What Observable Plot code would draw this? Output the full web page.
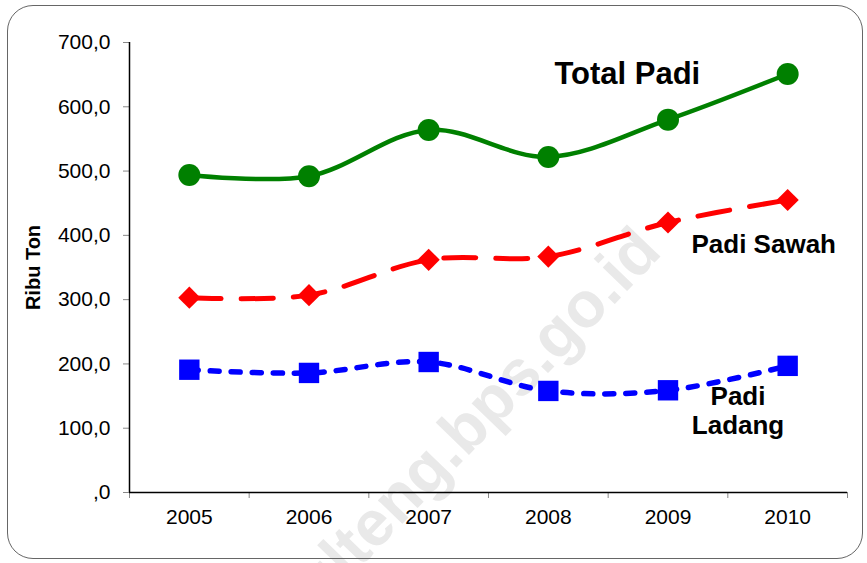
<!DOCTYPE html>
<html>
<head>
<meta charset="utf-8">
<script src="https://cdn.jsdelivr.net/npm/d3@7"></script>
<script src="https://cdn.jsdelivr.net/npm/@observablehq/plot@0.6"></script>
<style>
  html, body { margin: 0; padding: 0; background: #fff; }
  #wrap { position: relative; width: 867px; height: 563px; overflow: hidden; }
  #frame { position: absolute; left: 7px; top: 5px; width: 854px; height: 552px;
           border: 1px solid #666; border-radius: 26px; pointer-events: none; }
</style>
</head>
<body>
<div id="wrap"><div id="frame"></div></div>
<script>
const years = [2005, 2006, 2007, 2008, 2009, 2010];
const totalPadi = [494, 492, 564, 522, 580, 651];
const padiSawah = [303, 307, 362, 367, 420, 455];
const padiLadang = [191, 186, 203, 158, 159, 197];
const yTicks = [0, 100, 200, 300, 400, 500, 600, 700];
const xBounds = [2004.5, 2005.5, 2006.5, 2007.5, 2008.5, 2009.5, 2010.5];

const fmtY = d => d === 0 ? ",0" : d.toFixed(1).replace(".", ",");
const X = (d, i) => years[i];
const Y = d => d;

const chart = Plot.plot({
  width: 867,
  height: 563,
  marginLeft: 129,
  marginRight: 20,
  marginTop: 42,
  marginBottom: 71,
  style: { fontFamily: "'Liberation Sans', Arial, sans-serif", fontSize: "21px", background: "transparent" },
  x: { type: "linear", domain: [2004.5, 2010.5], axis: null },
  y: { domain: [0, 700], axis: null },
  marks: [
    Plot.text(["sulteng.bps.go.id"], {
      frameAnchor: "bottom-left", dx: 166, dy: 142, rotate: -46,
      textAnchor: "start", fontSize: 64, fontWeight: "bold", fill: "#e9e9e9"
    }),
    Plot.axisY({ ticks: yTicks, tickFormat: fmtY, tickSize: 6, tickPadding: 13, stroke: "#888", fill: "#000", label: null, fontSize: 21 }),
    Plot.axisX({ ticks: years, tickFormat: d => String(d), tickSize: 0, tickPadding: 17, fill: "#000", label: null, fontSize: 21 }),
    Plot.axisX({ ticks: xBounds, tickFormat: () => "", tickSize: 6, stroke: "#888", label: null }),
    Plot.ruleX([2004.5], { stroke: "#000", strokeWidth: 1.5 }),
    Plot.ruleY([0], { stroke: "#000", strokeWidth: 1.5 }),
    Plot.text(["Ribu Ton"], { frameAnchor: "left", dx: -96, rotate: -90, textAnchor: "middle", fontSize: 20, fontWeight: "bold", fill: "#000" }),

    Plot.line(padiLadang, { x: X, y: Y, stroke: "#0000ff", strokeWidth: 5.5, strokeDasharray: "9,12", strokeLinecap: "round", curve: "catmull-rom" }),
    Plot.line(padiSawah, { x: X, y: Y, stroke: "#ff0000", strokeWidth: 5, strokeDasharray: "32,20", strokeLinecap: "round", curve: "catmull-rom" }),
    Plot.line(totalPadi, { x: X, y: Y, stroke: "#008000", strokeWidth: 4.5, curve: "catmull-rom" }),

    Plot.dot(padiLadang, { x: X, y: Y, symbol: "square", r: 11.5, fill: "#0000ff", stroke: "none" }),
    Plot.dot(padiSawah, { x: X, y: Y, symbol: "diamond2", r: 10, fill: "#ff0000", stroke: "none" }),
    Plot.dot(totalPadi, { x: X, y: Y, symbol: "circle", r: 11, fill: "#008000", stroke: "none" }),

    Plot.text(["Total Padi"], { x: 2008.66, y: 651, fontSize: 31, fontWeight: "bold", fill: "#000" }),
    Plot.text(["Padi Sawah"], { x: 2009.80, y: 386, fontSize: 26, fontWeight: "bold", fill: "#000" }),
    Plot.text(["Padi\nLadang"], { x: 2009.585, y: 128, fontSize: 26, fontWeight: "bold", fill: "#000", lineHeight: 1.12 })
  ]
});
document.getElementById("wrap").prepend(chart);
</script>
</body>
</html>
